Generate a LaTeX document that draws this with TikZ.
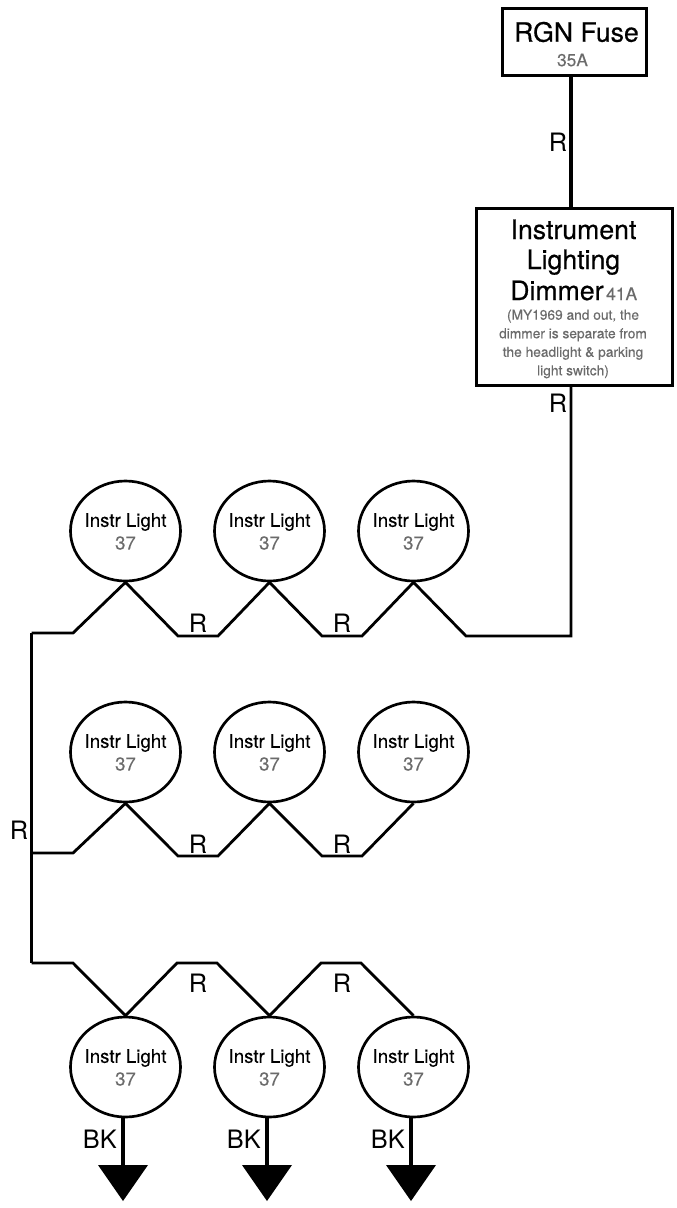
\documentclass[tikz,border=0pt]{standalone}
\usepackage{fontspec}
\setmainfont{TeX Gyre Heros}
\newfontfamily\medf[FakeBold=0.5]{TeX Gyre Heros}
\newfontfamily\medg[FakeBold=0.25]{TeX Gyre Heros}
\definecolor{gtext}{gray}{0.42}
\newcommand{\fs}[1]{\fontsize{#1}{#1}\selectfont}
\newlength{\pxl}\setlength{\pxl}{0.75pt}
\def\pxu{\pxl}
\usetikzlibrary{shapes.geometric}
\tikzset{
  wire/.style={draw=black,line width=2.1pt,line join=miter},
  stem/.style={draw=black,line width=2.3pt},
  boxnode/.style={draw=black,line width=2.2pt,fill=white,rectangle,inner sep=0pt,anchor=north west},
  lamp/.style={draw=black,line width=2pt,fill=white,ellipse,minimum width=110\pxu,minimum height=100\pxu,inner sep=0pt},
  lbl/.style={inner sep=0pt,font=\fs{19}},
  headtext/.style={inner sep=0pt,font=\medf\fs{20}},
  subtext/.style={inner sep=0pt,text=gtext,font=\medg\fs{13}},
  notetext/.style={inner sep=0pt,text=gtext,align=center,font=\medg\fs{10.3}},
  lamptext/.style={inner sep=0pt,font=\medg\fs{14}},
  gnd/.style={fill=black,draw=none},
}
\newcommand{\lampnode}[3]{%
  \node[lamp] (#1) at (#2,#3) {};
  \node[lamptext] (#1t) at (#2,#3-9) {Instr Light};
  \node[lamptext,text=gtext] (#1n) at (#2,#3+12) {37};
}
\begin{document}
\begin{tikzpicture}[x=0.75pt,y=-0.75pt]
\useasboundingbox (0,0) rectangle (677,1208);
% boxes
\node[boxnode,minimum width=144\pxu,minimum height=67\pxu] (fuse) at (501,7) {};
\node[boxnode,minimum width=196\pxu,minimum height=177\pxu] (dim) at (475,207) {};
\node[headtext] (fuset) at (576.5,32) {RGN Fuse};
\node[subtext] (fusea) at (572.5,60) {35A};
\node[headtext,anchor=base] (d1) at (573.5,239) {Instrument};
\node[headtext,anchor=base] (d2) at (573.5,269) {Lighting};
\node[headtext,anchor=base west] (d3) at (510,300) {Dimmer};
\node[subtext,anchor=base west] (d3a) at (606,300) {41A};
\node[notetext] (d4) at (573,344) {(MY1969 and out, the\\[3.6pt]dimmer is separate from\\[3.6pt]the headlight \& parking\\[3.6pt]light switch)};
% lamps
\lampnode{a1}{125.5}{531}\lampnode{a2}{269.5}{531}\lampnode{a3}{413.5}{531}
\lampnode{b1}{125.5}{752}\lampnode{b2}{269.5}{752}\lampnode{b3}{413.5}{752}
\lampnode{c1}{125.5}{1067}\lampnode{c2}{269.5}{1067}\lampnode{c3}{413.5}{1067}
% wires
\draw[stem] (571,74) -- (571,207);
\coordinate (ra) at (31.5,633);
\coordinate (rb) at (31.5,853);
\coordinate (rc) at (31.5,963);
\draw[stem] (ra) -- (rc);
\draw[wire] (571,384) -- (571,636) -- (466,636) -- (a3.south) -- (362,636) -- (322,636) -- (a2.south) -- (218,636) -- (178,636) -- (a1.south) -- (73,633) -- (ra);
\draw[wire] (rb) -- (73,853) -- (b1.south) -- (178,856) -- (218,856) -- (b2.south) -- (322,856) -- (362,856) -- (b3.south);
\draw[wire] (rc) -- (73,963) -- (c1.north) -- (177,963) -- (217,963) -- (c2.north) -- (321,963) -- (361,963) -- (c3.north);
% grounds
\foreach \n/\x in {c1/123,c2/267,c3/411}{
  \coordinate (g\n) at (\x,1165);
  \draw[stem] (\x,1117) -- (g\n);
  \fill[gnd] (\x-25,1165) -- (\x+25,1165) -- (\x,1201) -- cycle;
  \node[lbl,anchor=base east] at (\x-6,1148) {BK};
}
% labels
\node[lbl] (r1) at (558,142) {R};
\node[lbl] (r2) at (558,403) {R};
\node[lbl] (r3) at (19,830) {R};
\foreach \x in {198,342}{
  \node[lbl] at (\x,623) {R};
  \node[lbl] at (\x,844) {R};
  \node[lbl] at (\x,983) {R};
}
\end{tikzpicture}
\end{document}
